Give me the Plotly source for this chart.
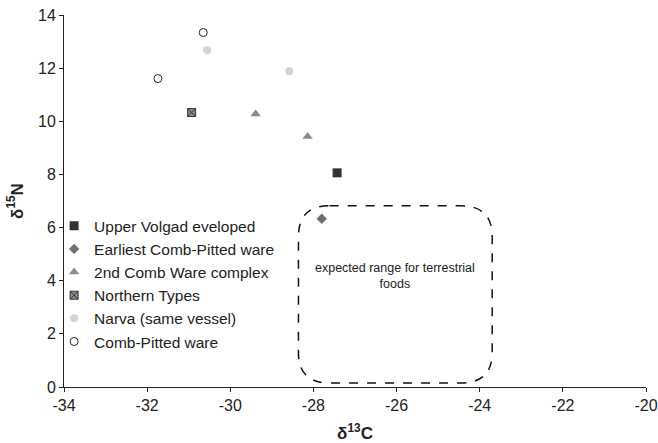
import plotly.graph_objects as go

# Data
upper_volga_x = [-27.43]
upper_volga_y = [8.06]
earliest_x = [-27.80]
earliest_y = [6.33]
comb2_x = [-29.39, -28.14]
comb2_y = [10.27, 9.43]
northern_x = [-30.93]
northern_y = [10.33]
narva_x = [-30.56, -28.58]
narva_y = [12.67, 11.88]
combpitted_x = [-31.74, -30.65]
combpitted_y = [11.61, 13.34]

x_ticks = [-34, -32, -30, -28, -26, -24, -22, -20]
y_ticks = [0, 2, 4, 6, 8, 10, 12, 14]

FONT = "Liberation Sans, Arial, sans-serif"

series = [
    ("Upper Volgad eveloped", upper_volga_x, upper_volga_y,
     dict(symbol="square", size=9, color="#333333", line=dict(width=0))),
    ("Earliest Comb-Pitted ware", earliest_x, earliest_y,
     dict(symbol="diamond", size=8, color="#6f6f6f", line=dict(width=0))),
    ("2nd Comb Ware complex", comb2_x, comb2_y,
     dict(symbol="triangle-up", size=9, color="#8a8a8a", line=dict(width=0))),
    ("Northern Types", northern_x, northern_y,
     dict(symbol="square-x", size=8, color="#8c8c8c", line=dict(width=1, color="#333333"))),
    ("Narva (same vessel)", narva_x, narva_y,
     dict(symbol="circle", size=8, color="#d4d4d4", line=dict(width=0))),
    ("Comb-Pitted ware", combpitted_x, combpitted_y,
     dict(symbol="circle-open", size=8, color="#222222", line=dict(width=1))),
]

fig = go.Figure()
for i, (name, xs, ys, mk) in enumerate(series):
    fig.add_trace(go.Scatter(x=xs, y=ys, mode="markers", name=name,
                             marker=mk, legendgroup=f"g{i}"))

# Rounded dashed box: expected range for terrestrial foods
x0, x1, y0, y1 = -28.36, -23.70, 0.15, 6.82
rx, ry = 0.75, 1.15
path = (f"M {x0+rx},{y1} L {x1-rx},{y1} Q {x1},{y1} {x1},{y1-ry} "
        f"L {x1},{y0+ry} Q {x1},{y0} {x1-rx},{y0} "
        f"L {x0+rx},{y0} Q {x0},{y0} {x0},{y0+ry} "
        f"L {x0},{y1-ry} Q {x0},{y1} {x0+rx},{y1} Z")
fig.add_shape(type="path", path=path, xref="x", yref="y",
              line=dict(color="#111111", width=1.5, dash="dash"))

fig.add_annotation(x=(x0 + x1) / 2, y=4.18, xref="x", yref="y",
                   text="expected range for terrestrial<br>foods",
                   showarrow=False, font=dict(family=FONT, size=12.5, color="#222222"))

fig.update_layout(
    width=658, height=443,
    margin=dict(l=64, r=12, t=15, b=56),
    paper_bgcolor="white", plot_bgcolor="white",
    font=dict(family=FONT, size=16, color="#222222"),
    showlegend=True,
    legend=dict(x=-0.017, y=0.478, xanchor="left", yanchor="top",
                font=dict(family=FONT, size=15.5, color="#222222"),
                bgcolor="rgba(0,0,0,0)", itemwidth=30, tracegroupgap=0),
    xaxis=dict(range=[-34, -20], tickvals=x_ticks, ticktext=[str(v) for v in x_ticks],
               showgrid=False, zeroline=False, showline=True, linecolor="#222222",
               linewidth=1, ticks="outside", ticklen=4, tickcolor="#222222",
               tickfont=dict(size=16), automargin=False,
               title=dict(text="<b>δ<sup>13</sup>C</b>", font=dict(size=17), standoff=15)),
    yaxis=dict(range=[0, 14], tickvals=y_ticks,
               showgrid=False, zeroline=False, showline=True, linecolor="#222222",
               linewidth=1, ticks="outside", ticklen=4, tickcolor="#222222",
               tickfont=dict(size=16), automargin=False,
               title=dict(text="<b>δ<sup>15</sup>N</b>", font=dict(size=17), standoff=10)),
)

fig.write_html("out.html")
